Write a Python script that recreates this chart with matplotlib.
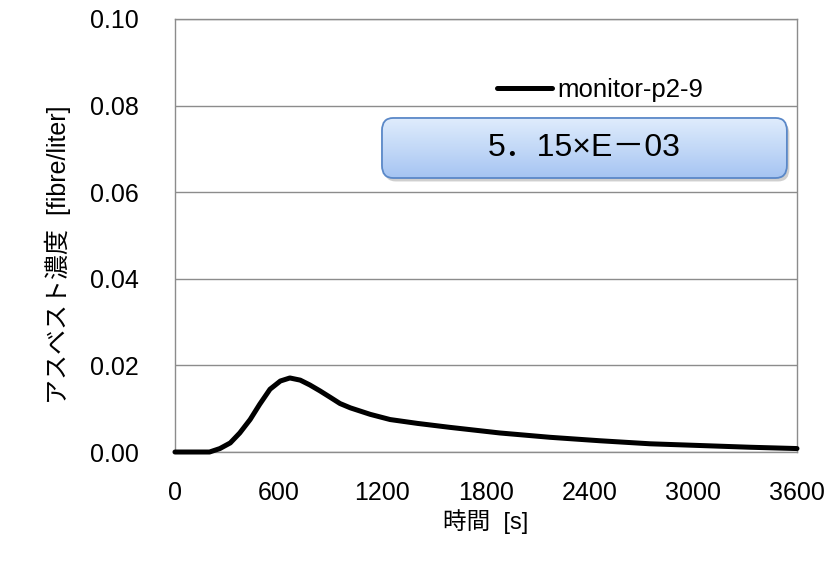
import numpy as np
import matplotlib
matplotlib.use("Agg")
import matplotlib.pyplot as plt
from matplotlib.patches import FancyBboxPatch

plt.rcParams['font.family'] = ['Liberation Sans', 'Noto Sans CJK JP', 'DejaVu Sans']

# time [s] and asbestos concentration [fibre/liter]
time_s = [0, 200, 260, 320, 375, 435, 490, 550, 610, 665, 725, 780, 840,
          900, 955, 1015, 1130, 1245, 1405, 1590, 1880, 2170, 2460, 2750,
          3040, 3330, 3600]
conc = [0.0, 0.0, 0.0008, 0.0021, 0.0044, 0.0075, 0.0110, 0.0145, 0.0164,
        0.0171, 0.0166, 0.0155, 0.0141, 0.0126, 0.0112, 0.0102, 0.0087,
        0.0075, 0.0066, 0.0057, 0.0044, 0.0034, 0.0026, 0.0019, 0.0015,
        0.0011, 0.0008]

x_ticks = [0, 600, 1200, 1800, 2400, 3000, 3600]
y_ticks = [0.00, 0.02, 0.04, 0.06, 0.08, 0.10]
series_name = "monitor-p2-9"
box_text = "5．15×E－03"

fig = plt.figure(figsize=(8.34, 5.62), dpi=100)
ax = fig.add_axes([0.2098, 0.1957, 0.7458, 0.7705])

ax.plot(time_s, conc, color='black', linewidth=3.6, solid_capstyle='round',
        solid_joinstyle='round', label=series_name, zorder=3, clip_on=False)

ax.set_xlim(0, 3600)
ax.set_ylim(0, 0.10)
ax.set_xticks(x_ticks)
ax.set_yticks(y_ticks)
ax.set_yticklabels([f"{v:.2f}" for v in y_ticks])
ax.tick_params(length=0, labelsize=18)
ax.tick_params(axis='y', pad=26)
ax.tick_params(axis='x', pad=21)
ax.yaxis.grid(True, color='#8c8c8c', linewidth=1.0)
ax.set_axisbelow(True)
for s in ax.spines.values():
    s.set_color('#8c8c8c')
    s.set_linewidth(1.0)

ax.set_xlabel("時間  [s]", fontsize=17, va='center')
ax.xaxis.set_label_coords(0.5, -0.1617)
ax.set_ylabel("アスベスト濃度  [fibre/liter]", fontsize=18, va='center', ha='center')
ax.yaxis.set_label_coords(-0.188, 0.455)

leg = ax.legend(loc='center left', bbox_to_anchor=(0.5177, 0.836), frameon=False,
                fontsize=18.5, handlelength=2.14, handletextpad=0.2,
                borderpad=0, borderaxespad=0)
for ln in leg.get_lines():
    ln.set_linewidth(3.6)

# rounded gradient box with value
bx0, by0, bw, bh = 0.3328, 0.6328, 0.651, 0.1386
shadow = FancyBboxPatch((bx0 + 0.004, by0 - 0.008), bw, bh,
                        boxstyle="round,pad=0,rounding_size=0.018",
                        transform=ax.transAxes, facecolor='#00000030',
                        edgecolor='none', zorder=4, mutation_aspect=1.6)
ax.add_patch(shadow)
box = FancyBboxPatch((bx0, by0), bw, bh,
                     boxstyle="round,pad=0,rounding_size=0.018",
                     transform=ax.transAxes, facecolor='none',
                     edgecolor='#5a88c8', linewidth=1.3, zorder=6,
                     mutation_aspect=1.6)
ax.add_patch(box)
grad = np.linspace(0, 1, 100).reshape(-1, 1, 1)
top = np.array([0.88, 0.93, 0.99])
bot = np.array([0.65, 0.77, 0.95])
img = top + (bot - top) * grad
im = ax.imshow(img, extent=(bx0, bx0 + bw, by0, by0 + bh), origin='upper',
               transform=ax.transAxes, aspect='auto', zorder=5)
im.set_clip_path(box)
ax.text(bx0 + bw / 2, by0 + bh / 2, box_text, transform=ax.transAxes,
        ha='center', va='center', fontsize=23, zorder=7)

fig.savefig("out.png", dpi=100)
